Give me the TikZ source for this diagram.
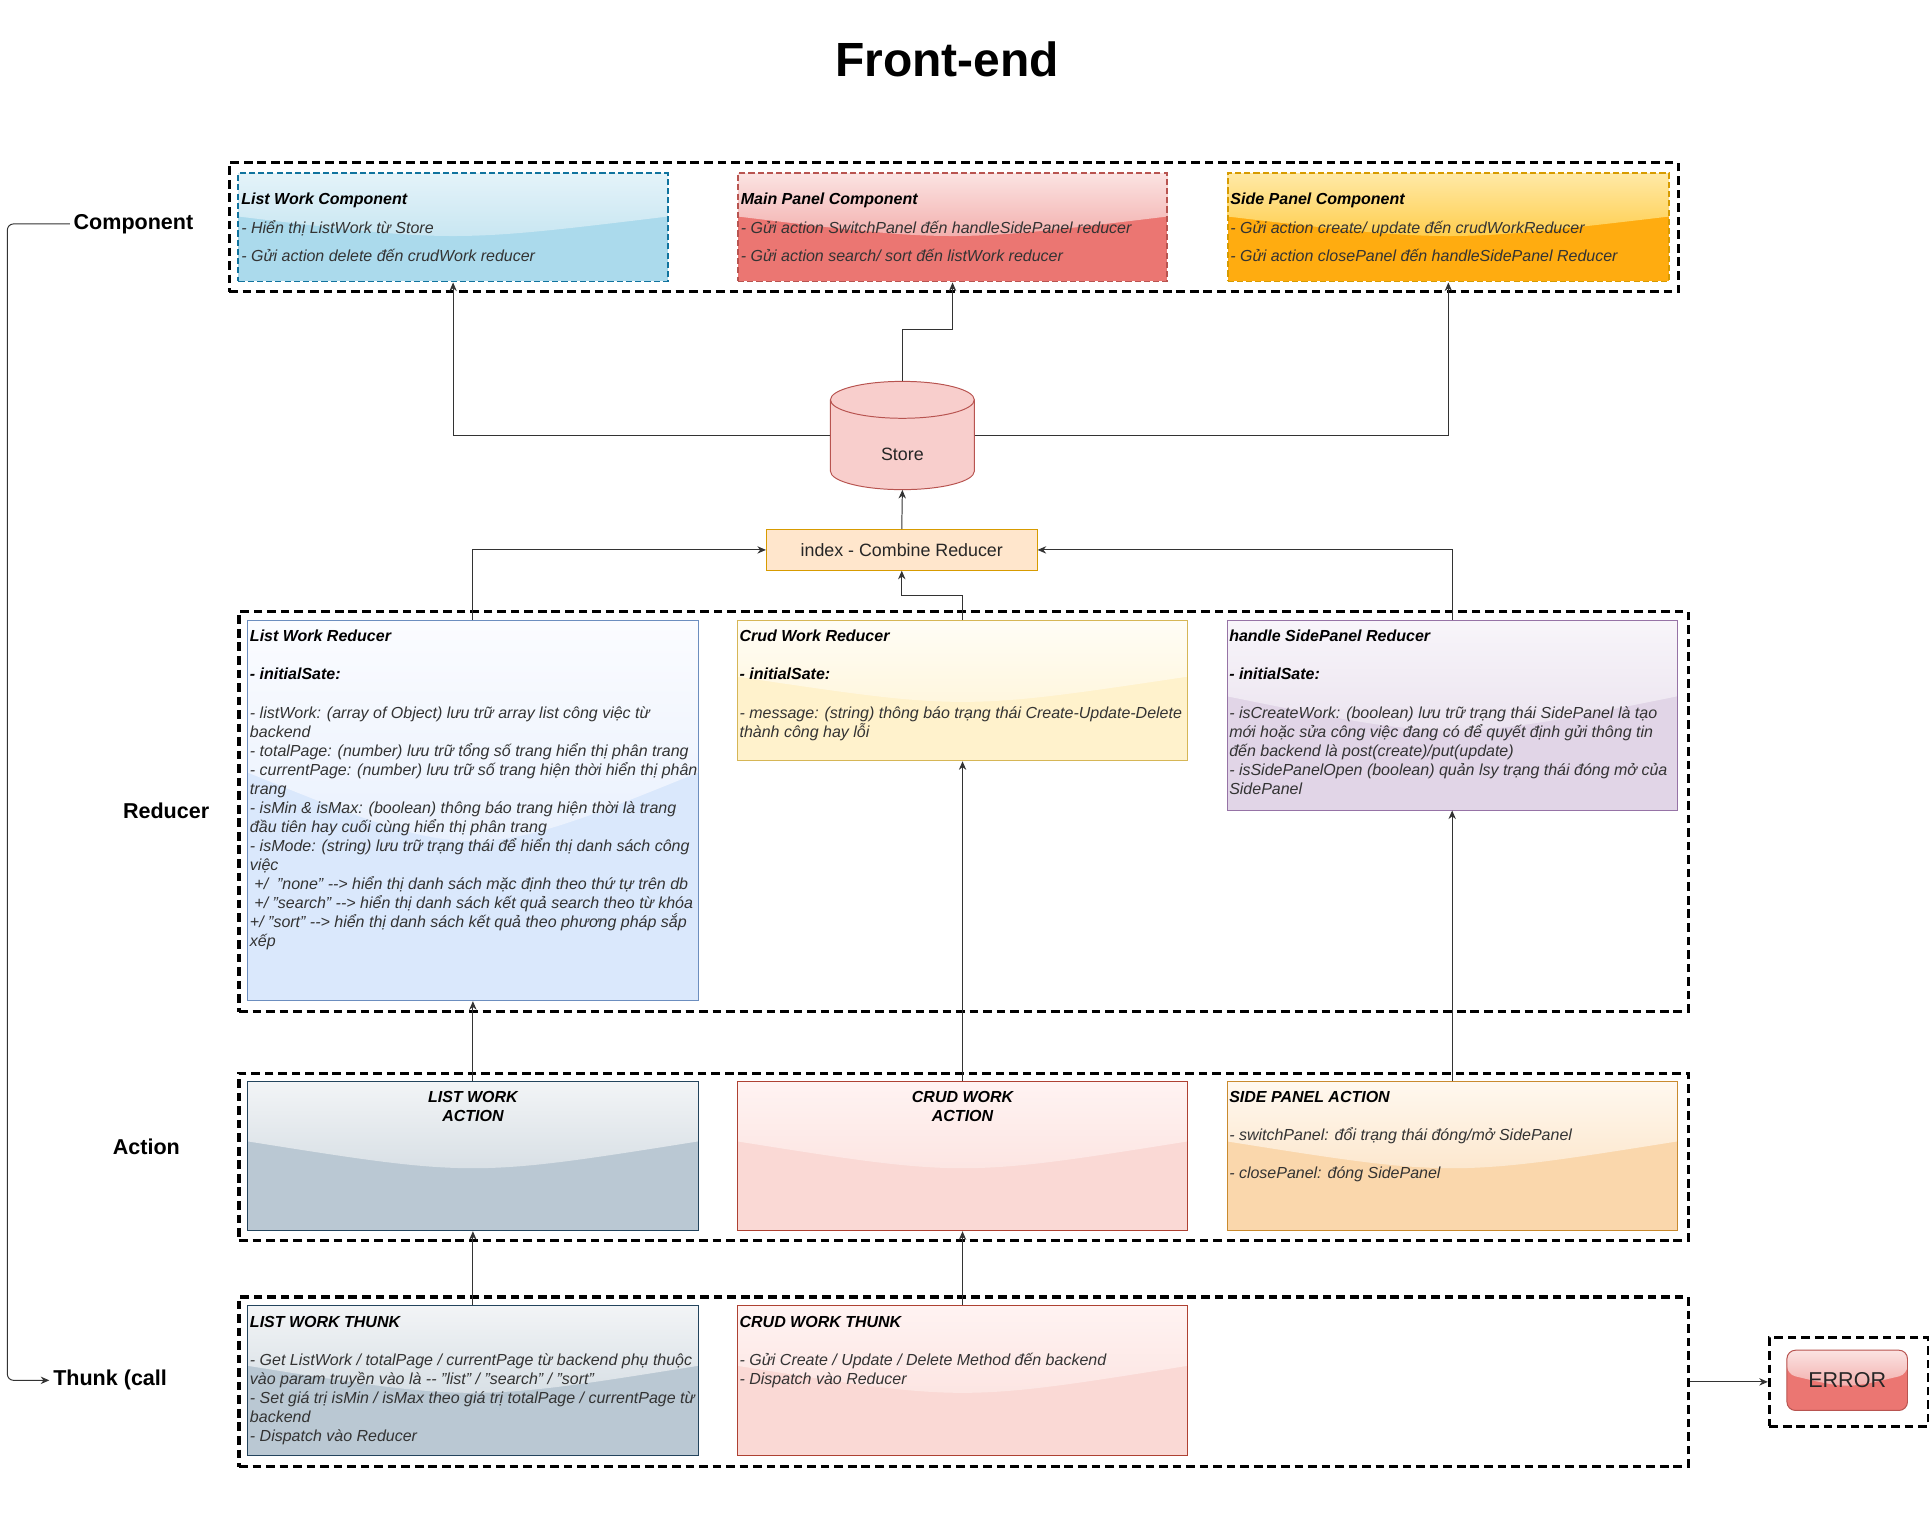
\documentclass[tikz,border=0pt]{standalone}
\usepackage{fontspec}
\setmainfont{Liberation Sans}
\usetikzlibrary{positioning,arrows.meta,calc}

\definecolor{txtgray}{HTML}{333333}
\definecolor{linegray}{HTML}{333333}
% component colours
\definecolor{lwcline}{HTML}{10739E}\definecolor{lwctop}{HTML}{E4F3F9}\definecolor{lwcmid}{HTML}{C6E5F1}\definecolor{lwcbot}{HTML}{ABDAEC}
\definecolor{redline}{HTML}{B85450}\definecolor{redtop}{HTML}{FBE3E2}\definecolor{redmid}{HTML}{F2ABA9}\definecolor{redbot}{HTML}{EB7672}
\definecolor{orgline}{HTML}{D79B00}\definecolor{orgtop}{HTML}{FFE9A6}\definecolor{orgmid}{HTML}{FFCB45}\definecolor{orgbot}{HTML}{FFAC10}
% reducer colours
\definecolor{blueline}{HTML}{6C8EBF}\definecolor{bluetop}{HTML}{FBFCFF}\definecolor{bluemid}{HTML}{E8F0FD}\definecolor{bluebot}{HTML}{DAE8FC}
\definecolor{yelline}{HTML}{D6B656}\definecolor{yeltop}{HTML}{FFFDF6}\definecolor{yelmid}{HTML}{FFF6DC}\definecolor{yelbot}{HTML}{FFF2CC}
\definecolor{purline}{HTML}{9673A6}\definecolor{purtop}{HTML}{F8F5FA}\definecolor{purmid}{HTML}{EAE2EE}\definecolor{purbot}{HTML}{E1D5E7}
% action / thunk colours
\definecolor{greyline}{HTML}{23445D}\definecolor{greytop}{HTML}{F2F4F6}\definecolor{greymid}{HTML}{D6DEE4}\definecolor{greybot}{HTML}{BAC8D3}
\definecolor{pinkline}{HTML}{AE4132}\definecolor{pinktop}{HTML}{FFF3F2}\definecolor{pinkmid}{HTML}{FCE4E1}\definecolor{pinkbot}{HTML}{FAD9D5}
\definecolor{peachline}{HTML}{C98A2E}\definecolor{peachtop}{HTML}{FFF8EF}\definecolor{peachmid}{HTML}{FCE6CB}\definecolor{peachbot}{HTML}{FAD7AC}
% store / index
\definecolor{storefill}{HTML}{F8CECC}
\definecolor{indexfill}{HTML}{FFE6CC}

\newcommand{\boxtitle}[1]{\textcolor{black}{\bfseries #1}}

\tikzset{
  flow/.style={draw=linegray, line width=0.8pt, -{Stealth[length=7pt,width=6pt]}},
  frame/.style={draw=black, line width=2.5pt, dash pattern=on 7pt off 4pt, anchor=north west, inner sep=0pt},
  % line colour, glass top, glass bottom, body
  box/.style n args={4}{draw=#1, fill=#4, anchor=north west, inner sep=0pt, line width=0.8pt,
    path picture={
      \coordinate (gnw) at (path picture bounding box.north west);
      \coordinate (gne) at (path picture bounding box.north east);
      \coordinate (gsw) at (path picture bounding box.south west);
      \coordinate (gse) at (path picture bounding box.south east);
      \shade[top color=#2, bottom color=#3] (gnw) -- (gne) -- ($(gne)!0.4!(gse)$)
        .. controls ($($(gnw)!0.5!(gne)$)!0.64!($(gsw)!0.5!(gse)$)$) .. ($(gnw)!0.4!(gsw)$) -- cycle;}},
  dashbox/.style={line width=1.6pt, dash pattern=on 5pt off 2.5pt},
  txt/.style={align=left, inner sep=0pt, text=txtgray, font=\itshape\fontsize{13}{15.5}\selectfont},
  side/.style={font=\bfseries\fontsize{17.5}{21}\selectfont, inner sep=3pt}
}

\begin{document}
\begin{tikzpicture}[x=1pt,y=-1pt]
\useasboundingbox (0,0) rectangle (1568,1235);

\node[font=\bfseries\fontsize{39}{45}\selectfont] (title) at (770,48) {Front-end};

% outer frames
\node[frame, minimum width=1178pt, minimum height=105pt] (compframe) at (185,131) {};
\node[frame, minimum width=1178pt, minimum height=325pt] (redframe) at (193,496) {};
\node[frame, minimum width=1178pt, minimum height=136pt] (actframe) at (193,871) {};
\node[frame, minimum width=1178pt, minimum height=138pt] (thunkframe) at (193,1053) {};
\node[frame, minimum width=129pt, minimum height=72pt] (errframe) at (1437,1086) {};

% layer labels
\node[side] (lcomp) at (108.5,182) {Component};
\node[side] (lred) at (135,659) {Reducer};
\node[side] (lact) at (119,932) {Action};
\node[side] (lthunk) at (89.5,1122) {Thunk (call};

% components
\node[box={lwcline}{lwctop}{lwcmid}{lwcbot}, dashbox, minimum width=349pt, minimum height=88pt] (lwcomp) at (193,140) {};
\node[box={redline}{redtop}{redmid}{redbot}, dashbox, minimum width=349pt, minimum height=88pt] (mpcomp) at (599,140) {};
\node[box={orgline}{orgtop}{orgmid}{orgbot}, dashbox, minimum width=359pt, minimum height=88pt] (spcomp) at (997,140) {};

\node[txt, font=\itshape\fontsize{13}{23}\selectfont, below right=17pt and 3pt of lwcomp.north west] (lwcomptxt)
  {\boxtitle{List Work Component}\\- Hiển thị ListWork từ Store\\- Gửi action delete đến crudWork reducer};
\node[txt, font=\itshape\fontsize{13}{23}\selectfont, below right=17pt and 3pt of mpcomp.north west] (mpcomptxt)
  {\boxtitle{Main Panel Component}\\- Gửi action SwitchPanel đến handleSidePanel reducer\\- Gửi action search/ sort đến listWork reducer};
\node[txt, font=\itshape\fontsize{13}{23}\selectfont, below right=17pt and 3pt of spcomp.north west] (spcomptxt)
  {\boxtitle{Side Panel Component}\\- Gửi action create/ update đến crudWorkReducer\\- Gửi action closePanel đến handleSidePanel Reducer};

% store
\fill[storefill] (675,325) -- (675,383) arc[start angle=180,end angle=360,x radius=58.5pt,y radius=15pt]
  -- (792,325) arc[start angle=0,end angle=180,x radius=58.5pt,y radius=15pt] -- cycle;
\draw[redline, line width=0.8pt] (675,325) -- (675,383) arc[start angle=180,end angle=360,x radius=58.5pt,y radius=15pt]
  -- (792,325) arc[start angle=0,end angle=180,x radius=58.5pt,y radius=15pt];
\draw[redline, line width=0.8pt] (675,325) arc[start angle=180,end angle=360,x radius=58.5pt,y radius=15pt];
\node[minimum width=117pt, minimum height=88pt, inner sep=0pt] (store) at (733.5,354) {};
\node[font=\fontsize{14.5}{17}\selectfont, text=black!85] (storelbl) at (733.5,369) {Store};

\node[draw=orgline, fill=indexfill, line width=0.8pt, minimum width=220pt, minimum height=33pt, inner sep=0pt,
  font=\fontsize{14.5}{17}\selectfont, text=black!85] (index) at (733,447) {index - Combine Reducer};

% reducers
\node[box={blueline}{bluetop}{bluemid}{bluebot}, minimum width=366pt, minimum height=309pt] (lwred) at (201,504) {};
\node[box={yelline}{yeltop}{yelmid}{yelbot}, minimum width=366pt, minimum height=114pt] (cwred) at (599,504) {};
\node[box={purline}{purtop}{purmid}{purbot}, minimum width=366pt, minimum height=154pt] (hsred) at (997,504) {};

\node[txt, below right=8pt and 2pt of lwred.north west] (lwredtxt)
  {\boxtitle{List Work Reducer}\\[15.5pt]
   \boxtitle{- initialSate:}\\[15.5pt]
   - listWork: (array of Object) lưu trữ array list công việc từ\\
   backend\\
   - totalPage: (number) lưu trữ tổng số trang hiển thị phân trang\\
   - currentPage: (number) lưu trữ số trang hiện thời hiển thị phân\\
   trang\\
   - isMin \& isMax: (boolean) thông báo trang hiện thời là trang\\
   đầu tiên hay cuối cùng hiển thị phân trang\\
   - isMode: (string) lưu trữ trạng thái để hiển thị danh sách công\\
   việc\\
   \ +/\ \ "none" -{}-{}> hiển thị danh sách mặc định theo thứ tự trên db\\
   \ +/ "search" -{}-{}> hiển thị danh sách kết quả search theo từ khóa\\
   +/ "sort" -{}-{}> hiển thị danh sách kết quả theo phương pháp sắp\\
   xếp};
\node[txt, below right=8pt and 2pt of cwred.north west] (cwredtxt)
  {\boxtitle{Crud Work Reducer}\\[15.5pt]
   \boxtitle{- initialSate:}\\[15.5pt]
   - message: (string) thông báo trạng thái Create-Update-Delete\\
   thành công hay lỗi};
\node[txt, below right=8pt and 2pt of hsred.north west] (hsredtxt)
  {\boxtitle{handle SidePanel Reducer}\\[15.5pt]
   \boxtitle{- initialSate:}\\[15.5pt]
   - isCreateWork: (boolean) lưu trữ trạng thái SidePanel là tạo\\
   mới hoặc sửa công việc đang có để quyết định gửi thông tin\\
   đến backend là post(create)/put(update)\\
   - isSidePanelOpen (boolean) quản lsy trạng thái đóng mở của\\
   SidePanel};

% actions
\node[box={greyline}{greytop}{greymid}{greybot}, minimum width=366pt, minimum height=121pt] (lwact) at (201,879) {};
\node[box={pinkline}{pinktop}{pinkmid}{pinkbot}, minimum width=366pt, minimum height=121pt] (cwact) at (599,879) {};
\node[box={peachline}{peachtop}{peachmid}{peachbot}, minimum width=366pt, minimum height=121pt] (spact) at (997,879) {};

\node[txt, align=center, below=7.5pt of lwact.north] (lwacttxt) {\boxtitle{LIST WORK}\\\boxtitle{ACTION}};
\node[txt, align=center, below=7.5pt of cwact.north] (cwacttxt) {\boxtitle{CRUD WORK}\\\boxtitle{ACTION}};
\node[txt, below right=7.5pt and 2pt of spact.north west] (spacttxt)
  {\boxtitle{SIDE PANEL ACTION}\\[15.5pt]
   - switchPanel: đổi trạng thái đóng/mở SidePanel\\[15.5pt]
   - closePanel: đóng SidePanel};

% thunks
\node[box={greyline}{greytop}{greymid}{greybot}, minimum width=366pt, minimum height=122pt] (lwthunk) at (201,1061) {};
\node[box={pinkline}{pinktop}{pinkmid}{pinkbot}, minimum width=366pt, minimum height=122pt] (cwthunk) at (599,1061) {};

\node[txt, below right=8.5pt and 2pt of lwthunk.north west] (lwthunktxt)
  {\boxtitle{LIST WORK THUNK}\\[15.5pt]
   - Get ListWork / totalPage / currentPage từ backend phụ thuộc\\
   vào param truyền vào là -{}- "list" / "search" / "sort"\\
   - Set giá trị isMin / isMax theo giá trị totalPage / currentPage từ\\
   backend\\
   - Dispatch vào Reducer};
\node[txt, below right=8.5pt and 2pt of cwthunk.north west] (cwthunktxt)
  {\boxtitle{CRUD WORK THUNK}\\[15.5pt]
   - Gửi Create / Update / Delete Method đến backend\\
   - Dispatch vào Reducer};

% error
\node[box={redline}{redtop}{redmid}{redbot}, anchor=center, rounded corners=7pt, minimum width=98pt, minimum height=49pt,
  font=\fontsize{17.5}{21}\selectfont, text=black!85] (error) at (1501.5,1122) {ERROR};

% connectors
\draw[flow] (store.west) -| (lwcomp.south);
\draw[flow] (store.east) -| (spcomp.south);
\draw[flow] (store.north) -- ++(0,-42) -| (mpcomp.south);
\draw[flow] (index.north) -- (store.south);
\draw[flow] (lwred.north) |- (index.west);
\draw[flow] (hsred.north) |- (index.east);
\draw[flow] (cwred.north) -- ++(0,-20) -| (index.south);
\draw[flow] (lwact.north) -- (lwred.south);
\draw[flow] (cwact.north) -- (cwred.south);
\draw[flow] (spact.north) -- (hsred.south);
\draw[flow] (lwthunk.north) -- (lwact.south);
\draw[flow] (cwthunk.north) -- (cwact.south);
\draw[flow] (thunkframe.east) -- (errframe.west);

\coordinate (rail) at (6,650);
\draw[flow, rounded corners=5pt] (lcomp.west) -| (rail) |- (lthunk.west);

\end{tikzpicture}
\end{document}
